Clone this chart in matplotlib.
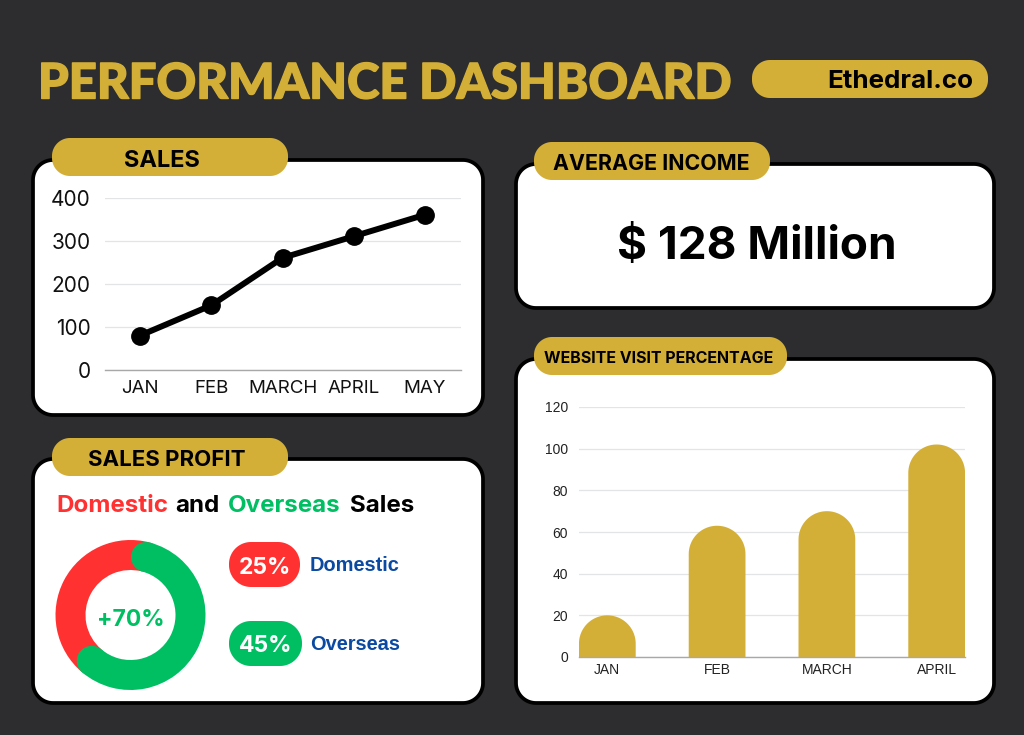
#!/usr/bin/env python3
"""Performance dashboard: sales line, visit bars, profit donut, income card."""
import numpy as np
import matplotlib
matplotlib.use('Agg')
import matplotlib.pyplot as plt
import matplotlib.patheffects as pe
from matplotlib.patches import Circle, Polygon

W, H = 1024, 735

BG = '#2d2d2f'
GOLD = '#d4af37'
RED = '#ff3131'
GREEN = '#00bf63'
BLUE = '#0b4aa2'
GRID = '#e2e4e6'
AXIS = '#a8a8a8'

HEAD_FONT = 'Lato'
TITLE_FONT = 'Inter'
BODY_FONT = 'Inter'
ARIAL = 'Liberation Sans'

sales_months = ['JAN', 'FEB', 'MARCH', 'APRIL', 'MAY']
sales_values = [80, 150, 260, 310, 360]
sales_ticks = [0, 100, 200, 300, 400]

visit_months = ['JAN', 'FEB', 'MARCH', 'APRIL']
visit_values = [20, 63, 70, 102]
visit_ticks = [0, 20, 40, 60, 80, 100, 120]

donut_labels = ['Overseas', 'Domestic']
donut_shares = [57, 43]
donut_colors = [GREEN, RED]


def px_axes(fig, x0, y0, x1, y1):
    # axes from pixel box, y measured from the top of the image
    ax = fig.add_axes([x0 / W, 1 - y1 / H, (x1 - x0) / W, (y1 - y0) / H])
    ax.patch.set_alpha(0)
    return ax


def rbox(ax, x0, y0, x1, y1, r, fc, ec='none', lw=0):
    # true circular corners, FancyBboxPatch corners come out too square
    pts = []
    for cx, cy, a in [(x1 - r, y0 + r, -90), (x1 - r, y1 - r, 0),
                      (x0 + r, y1 - r, 90), (x0 + r, y0 + r, 180)]:
        t = np.radians(np.linspace(a, a + 90, 24))
        pts.append(np.c_[cx + r * np.cos(t), cy + r * np.sin(t)])
    ax.add_patch(Polygon(np.vstack(pts), closed=True, fc=fc, ec=ec, lw=lw))


def style_chart(ax, ticks, labels, font, xsize, ysize, color, xpad, ypad):
    for name, spine in ax.spines.items():
        spine.set_visible(name == 'bottom')
    ax.spines['bottom'].set_color(AXIS)
    ax.spines['bottom'].set_linewidth(1.0)
    ax.set_yticks(ticks)
    ax.grid(True, axis='y', color=GRID, lw=0.9)
    ax.set_axisbelow(True)
    ax.tick_params(axis='x', length=0, pad=xpad, labelsize=xsize, labelcolor=color)
    ax.tick_params(axis='y', length=0, pad=ypad, labelsize=ysize, labelcolor=color)
    ax.set_xticks(range(len(labels)))
    ax.set_xticklabels(labels)
    for t in ax.get_xticklabels() + ax.get_yticklabels():
        t.set_fontfamily(font)


fig = plt.figure(figsize=(W / 100, H / 100), dpi=100, facecolor=BG)

base = fig.add_axes([0, 0, 1, 1])
base.set_xlim(0, W)
base.set_ylim(H, 0)
base.axis('off')

# white cards
for box in [(33, 160, 483, 415), (33, 459, 483, 703),
            (516, 164, 994, 308), (516, 359, 994, 703)]:
    rbox(base, *box, 20, 'white', 'black', 2.7)

# gold headers
rbox(base, 752, 60, 988, 98, 18, GOLD)
rbox(base, 52, 138, 288, 176, 18, GOLD)
rbox(base, 52, 438, 288, 476, 18, GOLD)
rbox(base, 534, 142, 770, 180, 18, GOLD)
rbox(base, 534, 337, 787, 375, 18, GOLD)

title = base.text(38, 80, 'PERFORMANCE DASHBOARD', color=GOLD, fontsize=35.3, fontweight='black',
                  family=HEAD_FONT, va='center_baseline')
title.set_path_effects([pe.withStroke(linewidth=1.0, foreground=GOLD)])
base.text(900, 79, 'Ethedral.co', color='black', fontsize=18.7, fontweight='bold',
          family=TITLE_FONT, ha='center', va='center_baseline')
base.text(162, 158, 'SALES', fontsize=17, fontweight='bold', family=TITLE_FONT,
          ha='center', va='center_baseline')
base.text(167, 458, 'SALES PROFIT', fontsize=16, fontweight='bold', family=TITLE_FONT,
          ha='center', va='center_baseline')
base.text(651, 162, 'AVERAGE INCOME', fontsize=15.4, fontweight='bold', family=TITLE_FONT,
          ha='center', va='center_baseline')
base.text(659, 357, 'WEBSITE VISIT PERCENTAGE', fontsize=11.5, fontweight='bold',
          family=TITLE_FONT, ha='center', va='center_baseline')
base.text(757, 242, '$ 128 Million', fontsize=33, fontweight='bold', family=TITLE_FONT,
          ha='center', va='center_baseline')

# donut heading in four colours
for x, word, col in [(56, 'Domestic', RED), (175, 'and', 'black'),
                     (228, 'Overseas', GREEN), (350, 'Sales', 'black')]:
    base.text(x, 512, word, color=col, fontsize=17.4, fontweight='bold',
              family=TITLE_FONT, va='baseline')

# legend pills
rbox(base, 229, 542, 300, 587, 22, RED)
rbox(base, 229, 621, 302, 666, 22, GREEN)
base.text(264.5, 565, '25%', color='white', fontsize=16.5, fontweight='bold',
          family=TITLE_FONT, ha='center', va='center_baseline')
base.text(265.5, 644, '45%', color='white', fontsize=16.5, fontweight='bold',
          family=TITLE_FONT, ha='center', va='center_baseline')
base.text(310, 571, 'Domestic', color=BLUE, fontsize=14.4, fontweight='bold',
          family=ARIAL, va='baseline')
base.text(310, 650, 'Overseas', color=BLUE, fontsize=14.4, fontweight='bold',
          family=ARIAL, va='baseline')

# sales line
ax_sales = px_axes(fig, 104.5, 197.5, 460.5, 370)
ax_sales.plot(range(len(sales_values)), sales_values, color='black', lw=4.3,
              marker='o', ms=12.5, clip_on=False)
ax_sales.set_xlim(-0.5, 4.5)
ax_sales.set_ylim(0, 400)
style_chart(ax_sales, sales_ticks, sales_months, BODY_FONT, 13.5, 15, '#111111', 7, 10)

# visit bars with round tops
ax_visit = px_axes(fig, 579, 407, 965, 657)
bar_w = 0.517
cap_h = 13.6  # top radius in value units
t = np.linspace(0, np.pi, 60)
for i, v in enumerate(visit_values):
    xs = np.r_[i + bar_w / 2, i + bar_w / 2 * np.cos(t), i - bar_w / 2]
    ys = np.r_[0, v - cap_h + cap_h * np.sin(t), 0]
    ax_visit.fill(xs, ys, color=GOLD, lw=0)
ax_visit.set_xlim(-0.258, 3.258)
ax_visit.set_ylim(0, 120)
style_chart(ax_visit, visit_ticks, visit_months, ARIAL, 10, 10, '#222222', 4.5, 8)

# donut with round ends on the green arc
ax_donut = px_axes(fig, 48, 532.5, 213, 697.5)
start = 75
ax_donut.pie(donut_shares, colors=donut_colors, radius=1, startangle=start,
             counterclock=False, wedgeprops=dict(width=0.4, lw=0))
ax_donut.set_xlim(-1.1, 1.1)
ax_donut.set_ylim(-1.1, 1.1)
end = start - 360 * donut_shares[0] / sum(donut_shares)
for ang in (start, end):
    ax_donut.add_patch(Circle((0.8 * np.cos(np.radians(ang)), 0.8 * np.sin(np.radians(ang))),
                              0.2, fc=GREEN, lw=0))
ax_donut.text(0, -0.03, '+70%', color=GREEN, fontsize=16.5, fontweight='bold',
              family=TITLE_FONT, ha='center', va='center_baseline')

fig.savefig('out.png', dpi=100, facecolor=BG)
